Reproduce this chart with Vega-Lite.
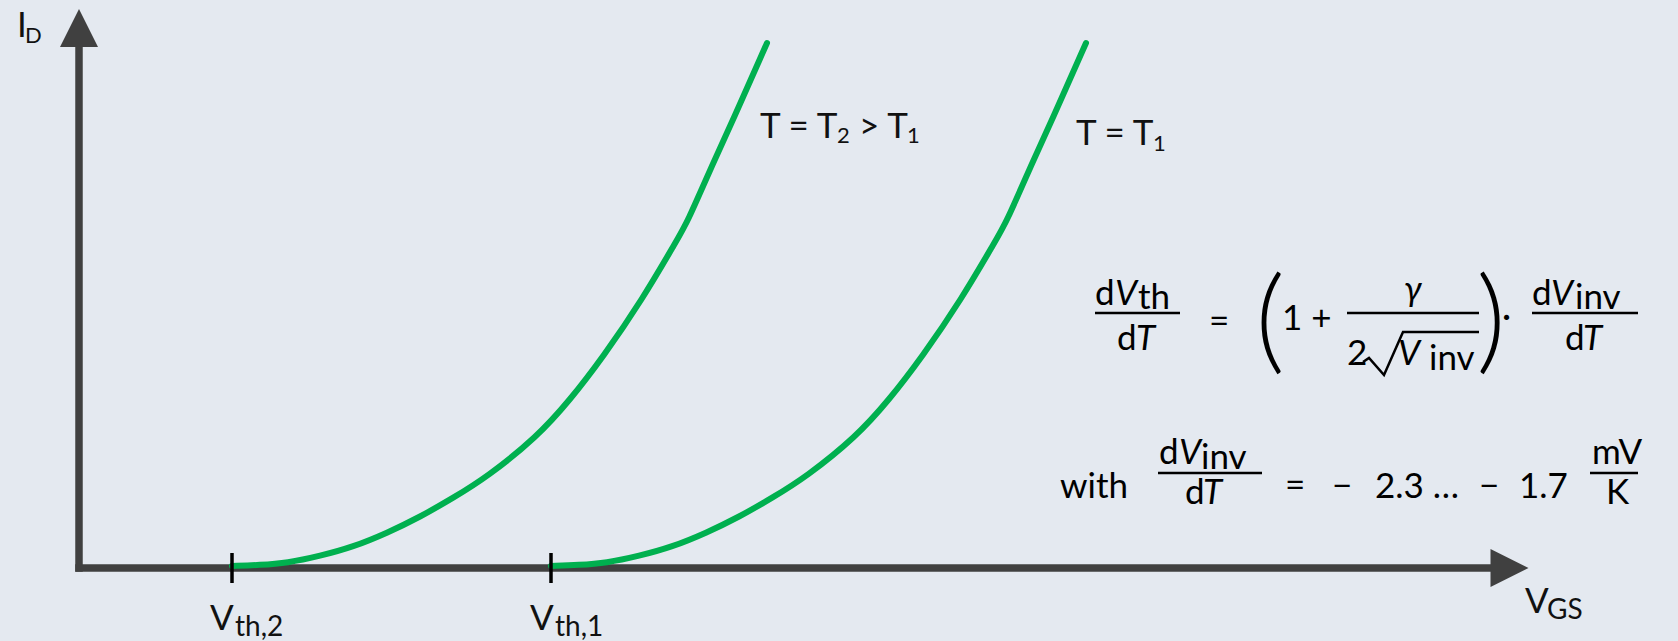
{
  "$schema": "https://vega.github.io/schema/vega-lite/v6.json",
  "width": 1678,
  "height": 641,
  "autosize": {"type": "none"},
  "padding": 0,
  "background": "#e4e9f0",
  "config": {"view": {"stroke": null}},
  "datasets": {
    "curves": [
      {"series": "T2", "x": 15.3, "y": 0.2}, {"series": "T2", "x": 18.1, "y": 0.3}, {"series": "T2", "x": 20.8, "y": 0.5},
      {"series": "T2", "x": 24.1, "y": 1.2}, {"series": "T2", "x": 27.4, "y": 2.1}, {"series": "T2", "x": 30.8, "y": 3.5},
      {"series": "T2", "x": 34.1, "y": 5.1}, {"series": "T2", "x": 37.4, "y": 7.0}, {"series": "T2", "x": 40.8, "y": 9.1},
      {"series": "T2", "x": 45.8, "y": 13.1}, {"series": "T2", "x": 49.1, "y": 16.8}, {"series": "T2", "x": 52.4, "y": 21.1},
      {"series": "T2", "x": 56.3, "y": 26.8}, {"series": "T2", "x": 59.8, "y": 32.8}, {"series": "T2", "x": 60.8, "y": 34.5},
      {"series": "T2", "x": 63.1, "y": 39.8}, {"series": "T2", "x": 65.4, "y": 44.8}, {"series": "T2", "x": 68.8, "y": 52.5},
      {"series": "T1", "x": 47.2, "y": 0.2}, {"series": "T1", "x": 50.0, "y": 0.3}, {"series": "T1", "x": 52.7, "y": 0.5},
      {"series": "T1", "x": 56.0, "y": 1.2}, {"series": "T1", "x": 59.3, "y": 2.1}, {"series": "T1", "x": 62.7, "y": 3.5},
      {"series": "T1", "x": 66.0, "y": 5.1}, {"series": "T1", "x": 69.3, "y": 7.0}, {"series": "T1", "x": 72.7, "y": 9.1},
      {"series": "T1", "x": 77.7, "y": 13.1}, {"series": "T1", "x": 81.0, "y": 16.8}, {"series": "T1", "x": 84.3, "y": 21.1},
      {"series": "T1", "x": 88.2, "y": 26.8}, {"series": "T1", "x": 91.7, "y": 32.8}, {"series": "T1", "x": 92.7, "y": 34.5},
      {"series": "T1", "x": 95.0, "y": 39.8}, {"series": "T1", "x": 97.3, "y": 44.8}, {"series": "T1", "x": 100.7, "y": 52.5}
    ],
    "axisV": [{"x": 0, "y": 0, "y2": 52}],
    "axisH": [{"x": 0, "x2": 141, "y": 0}],
    "arrowUp": [{"x": 0, "y": 54}],
    "arrowRight": [{"x": 143.05, "y": 0}],
    "thresholds": [{"name": "Vth2", "x": 15.3, "y": -1.5, "y2": 1.5}, {"name": "Vth1", "x": 47.2, "y": -1.5, "y2": 1.5}],
    "fractionBars": [
      {"x": 101.6, "x2": 110.1, "y": 25.5},
      {"x": 126.8, "x2": 140.0, "y": 25.5},
      {"x": 145.3, "x2": 155.9, "y": 25.5},
      {"x": 107.9, "x2": 118.3, "y": 9.5},
      {"x": 151.1, "x2": 155.9, "y": 9.5}
    ],
    "radical": [
      {"x": 128.4, "y": 20.6}, {"x": 129.0, "y": 21.0}, {"x": 130.5, "y": 19.3}, {"x": 132.4, "y": 23.6}, {"x": 140.0, "y": 23.6}
    ],
    "labels": [
      {"t": "I", "x": -6.2, "y": 53.1},
      {"t": "T = T", "x": 68.1, "y": 43.0},
      {"t": "> T", "x": 78.0, "y": 43.0},
      {"t": "T = T", "x": 99.7, "y": 42.3},
      {"t": "V", "x": 13.1, "y": -6.2},
      {"t": "V", "x": 45.1, "y": -6.2},
      {"t": "V", "x": 144.6, "y": -4.5}
    ],
    "labelSubs": [
      {"t": "D", "x": -5.4, "y": 52.5},
      {"t": "2", "x": 75.8, "y": 42.5},
      {"t": "1", "x": 82.8, "y": 42.5},
      {"t": "1", "x": 107.4, "y": 41.7}
    ],
    "axisSubs": [
      {"t": "th,2", "x": 15.6, "y": -6.8},
      {"t": "th,1", "x": 47.6, "y": -6.8},
      {"t": "GS", "x": 146.8, "y": -5.1}
    ],
    "formula": [
      {"t": "d", "x": 101.6, "y": 26.3},
      {"t": "th", "x": 105.9, "y": 25.9},
      {"t": "d", "x": 103.8, "y": 21.8},
      {"t": "=", "x": 113.0, "y": 23.5},
      {"t": "1 +", "x": 120.3, "y": 23.8},
      {"t": "2", "x": 126.8, "y": 20.3},
      {"t": "inv", "x": 135.0, "y": 19.8},
      {"t": "·", "x": 142.3, "y": 24.0},
      {"t": "d", "x": 145.3, "y": 26.3},
      {"t": "inv", "x": 149.6, "y": 25.9},
      {"t": "d", "x": 148.6, "y": 21.8},
      {"t": "with", "x": 98.1, "y": 7.0},
      {"t": "d", "x": 108.0, "y": 10.4},
      {"t": "inv", "x": 112.2, "y": 9.9},
      {"t": "d", "x": 110.6, "y": 6.4},
      {"t": "=", "x": 120.6, "y": 7.1},
      {"t": "−", "x": 125.3, "y": 7.0},
      {"t": "2.3 …", "x": 129.6, "y": 7.0},
      {"t": "−", "x": 140.0, "y": 7.0},
      {"t": "1.7", "x": 144.0, "y": 7.0},
      {"t": "mV", "x": 151.3, "y": 10.4},
      {"t": "K", "x": 152.7, "y": 6.4}
    ],
    "formulaItalic": [
      {"t": "V", "x": 103.6, "y": 26.3},
      {"t": "T", "x": 105.7, "y": 21.8},
      {"t": "γ", "x": 132.5, "y": 26.7},
      {"t": "V", "x": 131.9, "y": 20.3},
      {"t": "V", "x": 147.2, "y": 26.3},
      {"t": "T", "x": 150.4, "y": 21.8},
      {"t": "V", "x": 110.0, "y": 10.4},
      {"t": "T", "x": 112.4, "y": 6.4}
    ],
    "parens": [
      {"t": "(", "x": 119.1, "y": 20.95},
      {"t": ")", "x": 141.2, "y": 20.95}
    ]
  },
  "encoding": {
    "x": {"field": "x", "type": "quantitative", "scale": {"domain": [-7.9, 159.9], "nice": false, "zero": false}, "axis": null},
    "y": {"field": "y", "type": "quantitative", "scale": {"domain": [-7.3, 56.8], "nice": false, "zero": false}, "axis": null}
  },
  "layer": [
    {
      "data": {"name": "axisV"},
      "mark": {"type": "rule", "color": "#404040", "strokeWidth": 7.5, "strokeCap": "square"},
      "encoding": {"y2": {"field": "y2"}}
    },
    {
      "data": {"name": "axisH"},
      "mark": {"type": "rule", "color": "#404040", "strokeWidth": 7.5, "strokeCap": "square"},
      "encoding": {"x2": {"field": "x2"}}
    },
    {
      "data": {"name": "arrowUp"},
      "mark": {"type": "point", "shape": "M0,-1L1,1L-1,1Z", "size": 1444, "filled": true, "color": "#404040", "opacity": 1}
    },
    {
      "data": {"name": "arrowRight"},
      "mark": {"type": "point", "shape": "M1,0L-1,-1L-1,1Z", "size": 1444, "filled": true, "color": "#404040", "opacity": 1}
    },
    {
      "data": {"name": "curves"},
      "mark": {"type": "line", "color": "#00b04f", "strokeWidth": 6, "interpolate": "basis", "strokeCap": "round"},
      "encoding": {"detail": {"field": "series"}}
    },
    {
      "data": {"name": "thresholds"},
      "mark": {"type": "rule", "color": "#000000", "strokeWidth": 3.5},
      "encoding": {"y2": {"field": "y2"}}
    },
    {
      "data": {"name": "fractionBars"},
      "mark": {"type": "rule", "color": "#000000", "strokeWidth": 2.5},
      "encoding": {"x2": {"field": "x2"}}
    },
    {
      "data": {"name": "radical"},
      "mark": {"type": "line", "color": "#000000", "strokeWidth": 2.5, "strokeJoin": "miter"},
      "encoding": {}
    },
    {
      "data": {"name": "labels"},
      "mark": {"type": "text", "font": "Lato", "fontSize": 35, "align": "left", "baseline": "alphabetic", "color": "#111111"},
      "encoding": {"text": {"field": "t"}}
    },
    {
      "data": {"name": "labelSubs"},
      "mark": {"type": "text", "font": "Lato", "fontSize": 22, "align": "left", "baseline": "alphabetic", "color": "#111111"},
      "encoding": {"text": {"field": "t"}}
    },
    {
      "data": {"name": "axisSubs"},
      "mark": {"type": "text", "font": "Lato", "fontSize": 28, "align": "left", "baseline": "alphabetic", "color": "#111111"},
      "encoding": {"text": {"field": "t"}}
    },
    {
      "data": {"name": "formula"},
      "mark": {"type": "text", "font": "Lato", "fontSize": 35, "align": "left", "baseline": "alphabetic", "color": "#000000"},
      "encoding": {"text": {"field": "t"}}
    },
    {
      "data": {"name": "formulaItalic"},
      "mark": {"type": "text", "font": "Lato", "fontStyle": "italic", "fontSize": 35, "align": "left", "baseline": "alphabetic", "color": "#000000"},
      "encoding": {"text": {"field": "t"}}
    },
    {
      "data": {"name": "parens"},
      "mark": {"type": "text", "font": "Lato", "fontWeight": 300, "fontSize": 115, "align": "center", "baseline": "alphabetic", "color": "#000000"},
      "encoding": {"text": {"field": "t"}}
    }
  ]
}
